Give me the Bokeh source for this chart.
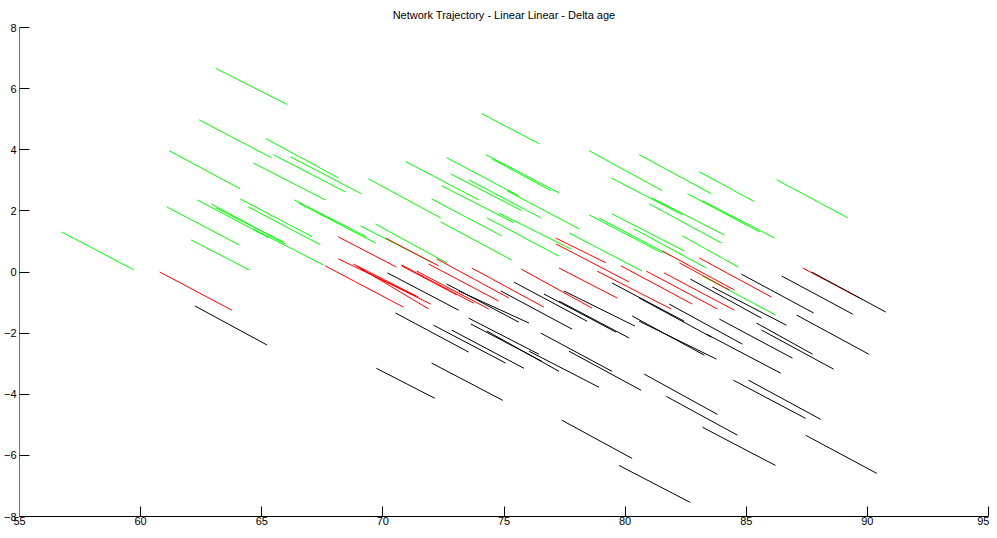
from bokeh.plotting import figure
from bokeh.models import ColumnDataSource, Range1d, FixedTicker
from bokeh.embed import file_html
from bokeh.resources import INLINE

# ---- data: each trajectory segment (age start/end, delta value start/end) ----
green_age0 = [63.11, 62.41, 61.17, 65.18, 65.47, 66.18, 64.64, 61.08, 62.33, 62.91,
              63.11, 64.11, 64.44, 62.08, 56.74, 66.34, 66.51, 64.64, 69.40, 70.94,
              72.63, 72.80, 72.43, 72.01, 72.38, 74.08, 74.25, 74.50, 73.54, 75.12,
              74.78, 74.29, 69.07, 69.69, 78.51, 80.58, 83.06, 79.42, 82.57, 83.19,
              81.08, 80.99, 78.51, 78.92, 79.46, 80.37, 82.36, 77.68, 86.25, 83.19]
green_val0 = [6.66, 4.98, 3.97, 4.36, 3.84, 3.77, 3.57, 2.13, 2.36, 2.23,
              2.10, 2.39, 2.13, 1.05, 1.31, 2.36, 2.26, 1.41, 3.05, 3.61,
              3.74, 3.21, 2.82, 2.39, 1.64, 5.18, 3.84, 3.70, 3.02, 2.66,
              1.93, 1.77, 1.51, 1.57, 3.97, 3.84, 3.28, 3.08, 2.56, 2.33,
              2.43, 2.23, 1.87, 1.77, 1.90, 1.41, 1.18, 1.28, 3.02, -0.13]
green_age1 = [66.05, 65.39, 64.11, 68.16, 68.45, 69.11, 67.62, 64.06, 65.31, 65.97,
              65.89, 67.09, 67.42, 64.48, 59.72, 69.32, 69.69, 67.54, 72.38, 73.96,
              75.61, 75.74, 75.41, 74.91, 75.32, 76.44, 77.27, 76.94, 76.52, 78.10,
              77.77, 77.27, 72.05, 72.63, 81.53, 83.56, 85.34, 82.36, 85.55, 86.17,
              84.10, 83.97, 81.53, 81.90, 82.44, 83.35, 84.68, 80.70, 89.19, 86.21]
green_val1 = [5.48, 3.74, 2.72, 3.08, 2.62, 2.56, 2.36, 0.89, 1.11, 0.92,
              0.98, 1.15, 0.89, 0.07, 0.07, 1.15, 0.95, 0.23, 1.77, 2.36,
              2.49, 2.00, 1.61, 1.18, 0.39, 4.20, 2.59, 2.66, 1.77, 1.41,
              0.75, 0.52, 0.30, 0.30, 2.66, 2.56, 2.30, 1.87, 1.31, 1.11,
              1.21, 0.95, 0.62, 0.52, 0.69, 0.13, 0.16, 0.03, 1.77, -1.41]

red_age0 = [60.79, 68.16, 67.62, 68.91, 68.78, 69.07, 68.16, 70.11, 70.77, 71.39,
            71.89, 72.22, 73.67, 75.70, 77.14, 77.14, 77.27, 78.84, 79.83, 80.87,
            81.53, 83.06, 82.24, 81.61, 87.33, 70.77]
red_val0 = [0.00, 0.43, 0.20, 0.20, 0.26, 0.10, 1.15, 1.11, 0.23, 0.03,
            0.26, 0.43, 0.13, 0.10, 1.11, 0.92, 0.13, 0.03, 0.20, 0.03,
            0.69, 0.46, 0.30, -0.03, 0.13, 0.20]
red_age1 = [63.77, 71.35, 70.85, 71.89, 71.47, 71.97, 70.56, 72.30, 73.75, 74.37,
            74.78, 75.20, 76.65, 78.63, 79.21, 80.17, 79.67, 81.90, 82.77, 83.81,
            84.51, 86.04, 84.30, 84.51, 89.77, 73.05]
red_val1 = [-1.25, -0.79, -1.15, -1.21, -0.82, -1.05, 0.16, 0.20, -1.02, -1.21,
            -0.95, -0.85, -1.15, -1.18, 0.30, -0.33, -0.85, -1.21, -1.05, -1.21,
            -0.59, -0.82, -0.59, -1.25, -0.89, -0.75]

black_age0 = [62.24, 70.19, 70.52, 72.09, 72.84, 73.63, 73.54, 74.29, 69.73, 72.01,
              72.63, 73.13, 74.87, 75.41, 76.65, 77.27, 76.52, 77.68, 76.03, 77.39,
              79.75, 79.46, 80.29, 80.79, 81.70, 83.19, 84.47, 85.09, 87.45, 84.80,
              86.46, 87.70, 87.08, 82.69, 83.60, 81.82, 83.89, 85.42, 85.63, 80.58,
              83.35, 77.47, 80.58]
black_val0 = [-1.11, -0.03, -1.34, -1.74, -1.90, -1.70, -1.51, -1.93, -3.15, -2.98,
              -0.39, -0.62, -0.62, -0.33, -0.72, -0.95, -2.00, -2.59, -2.59, -4.85,
              -6.33, -0.36, -1.44, -3.34, -4.07, -5.08, -3.54, -3.54, -5.34, -0.07,
              -0.13, 0.00, -1.41, -0.23, -0.49, -1.05, -1.54, -1.67, -1.90, -1.61,
              -2.03, -0.62, -0.85]
black_age1 = [65.22, 73.13, 73.54, 75.07, 75.82, 76.56, 76.44, 77.27, 72.14, 74.95,
              75.61, 76.03, 77.81, 78.43, 79.63, 80.17, 79.46, 80.66, 78.92, 80.29,
              82.69, 82.44, 83.27, 83.81, 84.64, 86.21, 87.45, 88.07, 90.39, 87.78,
              89.40, 90.76, 90.06, 85.63, 86.66, 84.84, 86.91, 87.74, 88.61, 83.77,
              86.42, 80.41, 83.56]
black_val1 = [-2.39, -1.25, -2.62, -2.98, -3.15, -2.92, -2.69, -3.25, -4.13, -4.20,
              -1.64, -1.67, -1.87, -1.61, -1.97, -2.16, -3.25, -3.87, -3.77, -6.10,
              -7.54, -1.61, -2.72, -4.66, -5.34, -6.33, -4.79, -4.82, -6.59, -1.34,
              -1.38, -1.31, -2.69, -1.51, -1.74, -2.36, -2.82, -2.69, -3.18, -2.85,
              -3.31, -1.77, -2.13]

x_ticks = [55, 60, 65, 70, 75, 80, 85, 90, 95]
y_ticks = [-8, -6, -4, -2, 0, 2, 4, 6, 8]

FONT = "Liberation Sans"

p = figure(width=989, height=527, output_backend="svg", toolbar_location=None,
           x_range=Range1d(55, 95), y_range=Range1d(-8, 8),
           title="Network Trajectory - Linear Linear - Delta age",
           min_border_left=14, min_border_right=1, min_border_top=0, min_border_bottom=0)

p.title.align = "center"
p.title.text_font = FONT
p.title.text_font_size = "11px"
p.title.text_font_style = "normal"
p.title.text_color = "#000000"
p.title.standoff = 13

p.outline_line_color = None
p.grid.visible = False
p.background_fill_color = "white"
p.border_fill_color = "white"

for grp_x0, grp_y0, grp_x1, grp_y1, col in [
        (green_age0, green_val0, green_age1, green_val1, "#00ff00"),
        (red_age0, red_val0, red_age1, red_val1, "#ff0000"),
        (black_age0, black_val0, black_age1, black_val1, "#000000")]:
    src = ColumnDataSource(dict(x0=grp_x0, y0=grp_y0, x1=grp_x1, y1=grp_y1))
    p.segment(x0="x0", y0="y0", x1="x1", y1="y1", source=src,
              line_color=col, line_width=1)

for ax, ticks in [(p.xaxis[0], x_ticks), (p.yaxis[0], y_ticks)]:
    ax.ticker = FixedTicker(ticks=ticks)
    ax.major_tick_in = 10
    ax.major_tick_out = 0
    ax.minor_tick_line_color = None
    ax.major_tick_line_color = "#000000"
    ax.axis_line_color = "#000000"
    ax.major_label_text_font = FONT
    ax.major_label_text_font_size = "11px"
    ax.major_label_text_color = "#000000"
    ax.major_label_standoff = 3
    ax.axis_label_standoff = 0

p.xaxis[0].major_label_standoff = 0
p.yaxis[0].axis_line_color = "#707070"

open("out.html", "w").write(file_html(p, INLINE))
